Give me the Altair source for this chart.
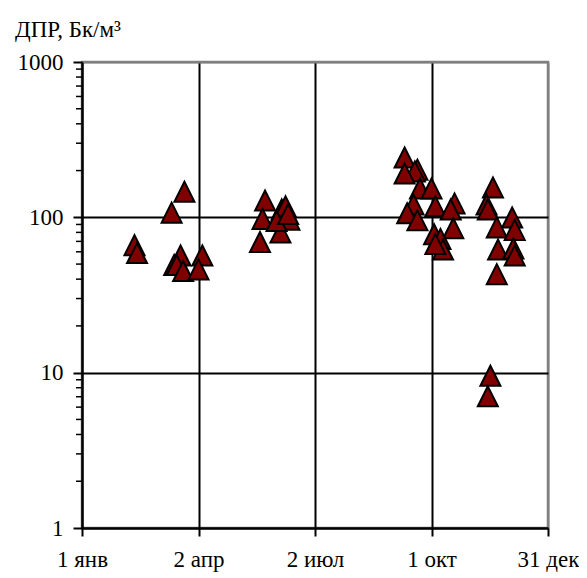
import altair as alt
import pandas as pd

# Data: day of year (0 = 1 Jan) and DPR value, Bq/m3
days = [41, 43, 70, 80, 77, 72, 74, 79, 94, 91,
        143, 141, 139, 156, 159, 162, 155, 152, 161,
        252, 262, 260, 252, 264, 273, 259, 254, 262, 276, 291, 288, 290, 275, 280, 282, 276,
        321, 316, 317, 336, 324, 338, 325, 337, 338, 324, 319, 317]
values = [63, 56, 102, 139, 54, 47, 47, 43, 54, 44,
          122, 93, 66, 107, 112, 92, 76, 90, 100,
          231, 193, 188, 182, 146, 146, 115, 101, 91, 112, 117, 107, 81, 74, 69, 59, 64,
          148, 115, 107, 95, 82, 79, 59, 60, 54, 41, 9.1, 6.7]

tick_days = [0, 91, 182, 273, 364]
tick_labels = ["1 янв", "2 апр", "2 июл", "1 окт", "31 дек"]
y_major = [1, 10, 100, 1000]
y_minor = [m * d for d in [1, 10, 100] for m in range(2, 10)]
y_title = "ДПР, Бк/м³"

FONT = "Liberation Serif"
FS = 23

df = pd.DataFrame({"day": days, "value": values})
label_expr = " : ".join(
    f"datum.value == {d} ? '{t}'" for d, t in zip(tick_days, tick_labels)
) + " : ''"

x_enc = alt.X(
    "day:Q",
    scale=alt.Scale(domain=[0, 364], nice=False, zero=False),
    axis=alt.Axis(
        values=tick_days, labelExpr=label_expr, title=None,
        grid=True,
        gridColor={"condition": {"test": "datum.value >= 364", "value": "#808080"}, "value": "black"},
        gridWidth=2, domainColor="black", domainWidth=2,
        tickColor="black", tickWidth=2, tickSize=8,
        labelFont=FONT, labelFontSize=FS, labelColor="black", labelPadding=12,
        labelFlush=False, labelOverlap=False,
    ),
)
y_scale = alt.Scale(type="log", domain=[1, 1000], nice=False)
y_enc = alt.Y(
    "value:Q",
    scale=y_scale,
    axis=alt.Axis(
        values=y_major, format="d", title=None,
        grid=True,
        gridColor={"condition": {"test": "datum.value >= 1000", "value": "#808080"}, "value": "black"},
        gridWidth=2, domainColor="black", domainWidth=2,
        tickColor="black", tickWidth=2, tickSize=9,
        labelFont=FONT, labelFontSize=FS, labelColor="black", labelPadding=10,
        labelFlush=False, labelOverlap=False,
    ),
)

points = alt.Chart(df).mark_point(
    shape="M0,-1.333L1,0.667L-1,0.667Z", filled=True, fill="#800000",
    stroke="black", strokeWidth=2, size=400, opacity=1,
).encode(x=x_enc, y=y_enc)

minor = alt.Chart(pd.DataFrame({"value": y_minor})).mark_rule(
    color="black", strokeWidth=1.5
).encode(
    y=alt.Y("value:Q", scale=y_scale),
    x=alt.value(-6), x2=alt.value(0),
)

title = alt.Chart(pd.DataFrame({"t": [y_title]})).mark_text(
    align="left", baseline="alphabetic", font=FONT, fontSize=FS, color="black"
).encode(text="t:N", x=alt.value(-67), y=alt.value(-25))

chart = alt.layer(points, minor, title).properties(
    width=466, height=466,
    autosize=alt.AutoSizeParams(type="none"),
    padding={"left": 74, "top": 54, "right": 31, "bottom": 50},
).configure_view(stroke="#808080", strokeWidth=2.5)

chart.save("out.html", embed_options={"renderer": "svg", "actions": False})
